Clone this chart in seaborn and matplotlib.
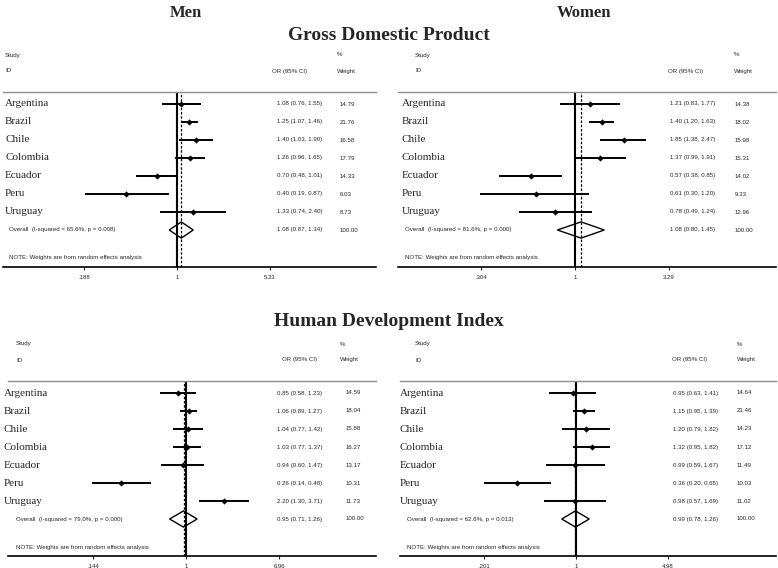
import numpy as np
import pandas as pd
import matplotlib
matplotlib.use("Agg")
import matplotlib.pyplot as plt
import matplotlib.transforms as mtransforms
from matplotlib.patches import Polygon
from matplotlib.ticker import NullLocator
import seaborn as sns

countries = ["Argentina", "Brazil", "Chile", "Colombia", "Ecuador", "Peru", "Uruguay"]

# Men - Gross Domestic Product
men_gdp_or = [1.08, 1.25, 1.40, 1.26, 0.70, 0.40, 1.33]
men_gdp_lo = [0.76, 1.07, 1.03, 0.96, 0.48, 0.19, 0.74]
men_gdp_hi = [1.55, 1.46, 1.90, 1.65, 1.01, 0.87, 2.40]
men_gdp_w = [14.79, 21.76, 16.58, 17.79, 14.33, 6.03, 8.73]
men_gdp_overall = [1.08, 0.87, 1.34]
men_gdp_het = ["65.6%", "0.008"]
men_gdp_ticks = [0.188, 1, 5.33]
men_gdp_ticklabels = [".188", "1", "5.33"]

# Women - Gross Domestic Product
women_gdp_or = [1.21, 1.40, 1.85, 1.37, 0.57, 0.61, 0.78]
women_gdp_lo = [0.83, 1.20, 1.38, 0.99, 0.38, 0.30, 0.49]
women_gdp_hi = [1.77, 1.63, 2.47, 1.91, 0.85, 1.20, 1.24]
women_gdp_w = [14.38, 18.02, 15.98, 15.31, 14.02, 9.33, 12.96]
women_gdp_overall = [1.08, 0.80, 1.45]
women_gdp_het = ["81.6%", "0.000"]
women_gdp_ticks = [0.304, 1, 3.29]
women_gdp_ticklabels = [".304", "1", "3.29"]

# Men - Human Development Index
men_hdi_or = [0.85, 1.06, 1.04, 1.03, 0.94, 0.26, 2.20]
men_hdi_lo = [0.58, 0.89, 0.77, 0.77, 0.60, 0.14, 1.30]
men_hdi_hi = [1.23, 1.27, 1.42, 1.37, 1.47, 0.48, 3.71]
men_hdi_w = [14.59, 18.04, 15.88, 16.27, 13.17, 10.31, 11.73]
men_hdi_overall = [0.95, 0.71, 1.26]
men_hdi_het = ["79.0%", "0.000"]
men_hdi_ticks = [0.144, 1, 6.96]
men_hdi_ticklabels = [".144", "1", "6.96"]

# Women - Human Development Index
women_hdi_or = [0.95, 1.15, 1.20, 1.32, 0.99, 0.36, 0.98]
women_hdi_lo = [0.63, 0.95, 0.79, 0.95, 0.59, 0.20, 0.57]
women_hdi_hi = [1.41, 1.39, 1.82, 1.82, 1.67, 0.65, 1.69]
women_hdi_w = [14.64, 21.46, 14.23, 17.12, 11.49, 10.03, 11.02]
women_hdi_overall = [0.99, 0.78, 1.26]
women_hdi_het = ["62.6%", "0.013"]
women_hdi_ticks = [0.201, 1, 4.98]
women_hdi_ticklabels = [".201", "1", "4.98"]

sns.set_style("white")
plt.rcParams["font.family"] = ["Liberation Sans", "DejaVu Sans"]
SERIF = ["Liberation Serif", "DejaVu Serif"]

W, H = 778, 568
fig = plt.figure(figsize=(W / 100, H / 100), dpi=100)

STEP = 18  # row spacing in pixels


def draw_panel(ax, orr, lo, hi, w, overall, het, ticks, ticklabels, lay):
    df = pd.DataFrame({"country": countries, "or": orr, "lo": lo, "hi": hi, "w": w})
    df["row"] = np.arange(len(df))
    n = len(df)

    ax.set_xscale("log")
    L, R, c, s = lay["L"], lay["R"], lay["c"], lay["s"]
    ax.set_xlim(np.exp((L - c) / s), np.exp((R - c) / s))
    top = (lay["top"] - lay["row0"]) / STEP
    bot = (lay["bottom"] - lay["row0"]) / STEP
    ax.set_ylim(bot, top)

    ax.axvline(1, color="black", lw=1.5, zorder=2)
    ax.axvline(overall[0], color="black", lw=0.9, ls=(0, (2, 1.4)), zorder=2)

    ax.hlines(df["row"], df["lo"], df["hi"], color="black", lw=1.4, zorder=3)
    sns.scatterplot(data=df, x="or", y="row", marker="D", s=8, color="black",
                    edgecolor="black", linewidth=0.3, legend=False, ax=ax, zorder=4)

    dy = 0.45
    ax.add_patch(Polygon([(overall[1], n), (overall[0], n - dy), (overall[2], n),
                          (overall[0], n + dy)], closed=True, fill=False,
                         edgecolor="black", lw=1.0, zorder=5))

    ax.set_xlabel("")
    ax.set_ylabel("")
    ax.set_yticks([])
    ax.set_xticks(ticks)
    ax.set_xticklabels(ticklabels)
    ax.xaxis.set_minor_locator(NullLocator())
    ax.tick_params(axis="x", length=2.5, width=0.8, pad=3, labelsize=4.3,
                   direction="out", bottom=True)
    for sp in ["left", "right"]:
        ax.spines[sp].set_visible(False)
    ax.spines["bottom"].set_color("black")
    ax.spines["bottom"].set_linewidth(1.2)
    ax.spines["top"].set_color("#8f8f8f")
    ax.spines["top"].set_linewidth(1.0)

    trans = mtransforms.blended_transform_factory(ax.transAxes, ax.transData)

    def fx(px):
        return (px - L) / (R - L)

    small = dict(fontsize=4.4, va="center", ha="left", transform=trans, clip_on=False)
    y_study = (55 - 104) / STEP
    y_id = (71 - 104) / STEP
    ax.text(fx(lay["head_x"]), y_study, "Study", **small)
    ax.text(fx(lay["head_x"]), y_id, "ID", **small)
    ax.text(fx(lay["orhead_x"]), y_id, "OR (95% CI)", **small)
    ax.text(fx(lay["whead_x"]), y_study, "%", **small)
    ax.text(fx(lay["whead_x"]), y_id, "Weight", **small)

    for i, r in df.iterrows():
        ax.text(fx(lay["name_x"]), r["row"], r["country"], ha="left", va="center",
                fontsize=8, family=SERIF, transform=trans, clip_on=False)
        ax.text(fx(lay["ci_x"]), r["row"], f"{r['or']:.2f} ({r['lo']:.2f}, {r['hi']:.2f})", **small)
        ax.text(fx(lay["w_x"]), r["row"], f"{r['w']:.2f}", **small)

    ax.text(fx(lay["overall_x"]), n, f"Overall  (I-squared = {het[0]}, p = {het[1]})", **small)
    ax.text(fx(lay["ci_x"]), n, f"{overall[0]:.2f} ({overall[1]:.2f}, {overall[2]:.2f})", **small)
    ax.text(fx(lay["w_x"]), n, "100.00", **small)
    ax.text(fx(lay["overall_x"]), (258 - 104) / STEP,
            "NOTE: Weights are from random effects analysis", **small)


def add_panel(lay):
    left, right = lay["L"], lay["R"]
    rect = [left / W, 1 - lay["bottom"] / H, (right - left) / W, (lay["bottom"] - lay["top"]) / H]
    ax = fig.add_axes(rect)
    ax.patch.set_alpha(0)
    return ax


SHIFT = 289
lay_tl = dict(L=3, R=376, c=177, s=55.6, top=92, bottom=267, row0=104,
              name_x=5, head_x=5, overall_x=9, ci_x=277, orhead_x=272, w_x=340, whead_x=337)
lay_tr = dict(L=398, R=776, c=575, s=78.9, top=92, bottom=267, row0=104,
              name_x=402, head_x=415, overall_x=405, ci_x=670, orhead_x=668, w_x=735, whead_x=734)
lay_bl = dict(L=8, R=376, c=186, s=48.0, top=92 + SHIFT, bottom=267 + SHIFT, row0=104 + SHIFT,
              name_x=4, head_x=16, overall_x=16, ci_x=277, orhead_x=282, w_x=346, whead_x=340)
lay_br = dict(L=400, R=776, c=576, s=57.4, top=92 + SHIFT, bottom=267 + SHIFT, row0=104 + SHIFT,
              name_x=400, head_x=415, overall_x=407, ci_x=673, orhead_x=672, w_x=737, whead_x=737)

draw_panel(add_panel(lay_tl), men_gdp_or, men_gdp_lo, men_gdp_hi, men_gdp_w,
           men_gdp_overall, men_gdp_het, men_gdp_ticks, men_gdp_ticklabels, lay_tl)
draw_panel(add_panel(lay_tr), women_gdp_or, women_gdp_lo, women_gdp_hi, women_gdp_w,
           women_gdp_overall, women_gdp_het, women_gdp_ticks, women_gdp_ticklabels, lay_tr)
draw_panel(add_panel(lay_bl), men_hdi_or, men_hdi_lo, men_hdi_hi, men_hdi_w,
           men_hdi_overall, men_hdi_het, men_hdi_ticks, men_hdi_ticklabels, lay_bl)
draw_panel(add_panel(lay_br), women_hdi_or, women_hdi_lo, women_hdi_hi, women_hdi_w,
           women_hdi_overall, women_hdi_het, women_hdi_ticks, women_hdi_ticklabels, lay_br)

title_kw = dict(ha="center", va="center", family=SERIF, weight="bold")
fig.text(186 / W, 1 - 13 / H, "Men", fontsize=12, **title_kw)
fig.text(584 / W, 1 - 13 / H, "Women", fontsize=12, **title_kw)
fig.text(389 / W, 1 - 36 / H, "Gross Domestic Product", fontsize=14, **title_kw)
fig.text(389 / W, 1 - 322 / H, "Human Development Index", fontsize=14, **title_kw)

fig.savefig("out.png", dpi=100, facecolor="white")
